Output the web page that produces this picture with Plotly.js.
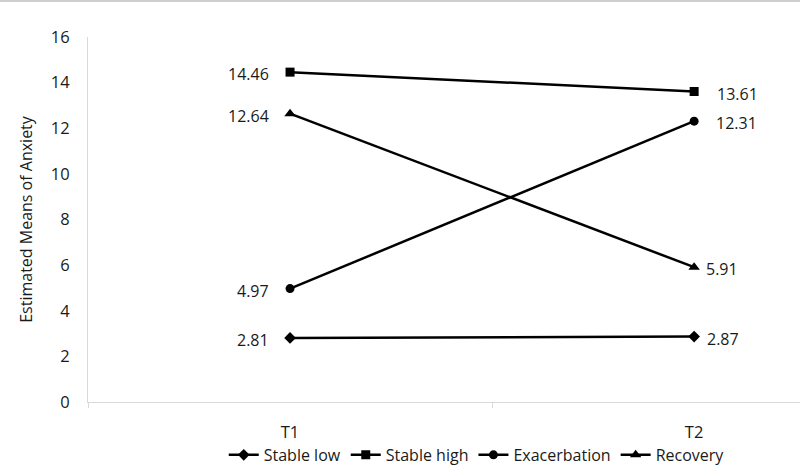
<!DOCTYPE html>
<html>
<head>
<meta charset="utf-8">
<script src="https://cdn.plot.ly/plotly-3.0.1.min.js"></script>
<style>html,body{margin:0;padding:0;background:#fff;}#chart{width:800px;height:468px;}</style>
</head>
<body>
<div id="chart"></div>
<script>
const categories = ["T1", "T2"];
const seriesNames = ["Stable low", "Stable high", "Exacerbation", "Recovery"];
const stableLow = [2.81, 2.87];
const stableHigh = [14.46, 13.61];
const exacerbation = [4.97, 12.31];
const recovery = [12.64, 5.91];
const yTickVals = [0, 2, 4, 6, 8, 10, 12, 14, 16];

const seriesValues = [stableLow, stableHigh, exacerbation, recovery];
const symbols = ["diamond", "square", "circle", "triangle-up"];
const markerSizes = [9, 9, 9, 10];
const rightShift = [11, 21, 20, 10];

const font = "'Open Sans', 'Liberation Sans', sans-serif";

const traces = seriesValues.map((vals, i) => ({
  type: "scatter",
  mode: "lines+markers",
  name: seriesNames[i],
  x: categories,
  y: vals,
  line: {color: "#000", width: 2.5},
  marker: {symbol: symbols[i], size: markerSizes[i], color: "#000"},
  hoverinfo: "skip"
}));

const annotations = [];
seriesValues.forEach((vals, i) => {
  vals.forEach((v, j) => {
    annotations.push({
      x: categories[j], y: v, xref: "x", yref: "y",
      text: v.toFixed(2), showarrow: false,
      xanchor: j === 0 ? "right" : "left",
      xshift: j === 0 ? -19 : rightShift[i],
      yshift: -2,
      font: {family: font, size: 16, color: "#1a1a1a"}
    });
  });
});

const layout = {
  width: 800, height: 468,
  margin: {l: 88, r: 0, t: 37, b: 66, autoexpand: false},
  paper_bgcolor: "#fff", plot_bgcolor: "#fff",
  showlegend: true,
  legend: {
    orientation: "h", x: 0.546, xanchor: "center", y: -0.145, yanchor: "middle",
    font: {family: font, size: 16, color: "#1a1a1a"},
    itemwidth: 30, tracegroupgap: 0
  },
  xaxis: {
    type: "category",
    range: [-0.5, 1.262],
    showline: true, linecolor: "#d9d9d9", linewidth: 1,
    showgrid: false, zeroline: false,
    ticks: "outside", tickson: "boundaries", ticklen: 5, tickcolor: "#d9d9d9",
    ticklabelstandoff: 15,
    tickfont: {family: font, size: 16.5, color: "#1a1a1a"}
  },
  yaxis: {
    range: [0, 16],
    tickvals: yTickVals,
    showline: true, linecolor: "#d9d9d9", linewidth: 1,
    showgrid: false, zeroline: false,
    ticks: "", ticklabelstandoff: 14,
    tickfont: {family: font, size: 16.5, color: "#1a1a1a"},
    title: {text: "Estimated Means of Anxiety", standoff: 14,
            font: {family: font, size: 16, color: "#1a1a1a"}}
  },
  shapes: [{
    type: "line", xref: "paper", yref: "paper",
    x0: -88/712, x1: 1, y0: 1 + 36/365, y1: 1 + 36/365,
    line: {color: "#cfcfcf", width: 2}
  }],
  annotations: annotations
};

Plotly.newPlot("chart", traces, layout, {displayModeBar: false, staticPlot: true});
</script>
</body>
</html>
